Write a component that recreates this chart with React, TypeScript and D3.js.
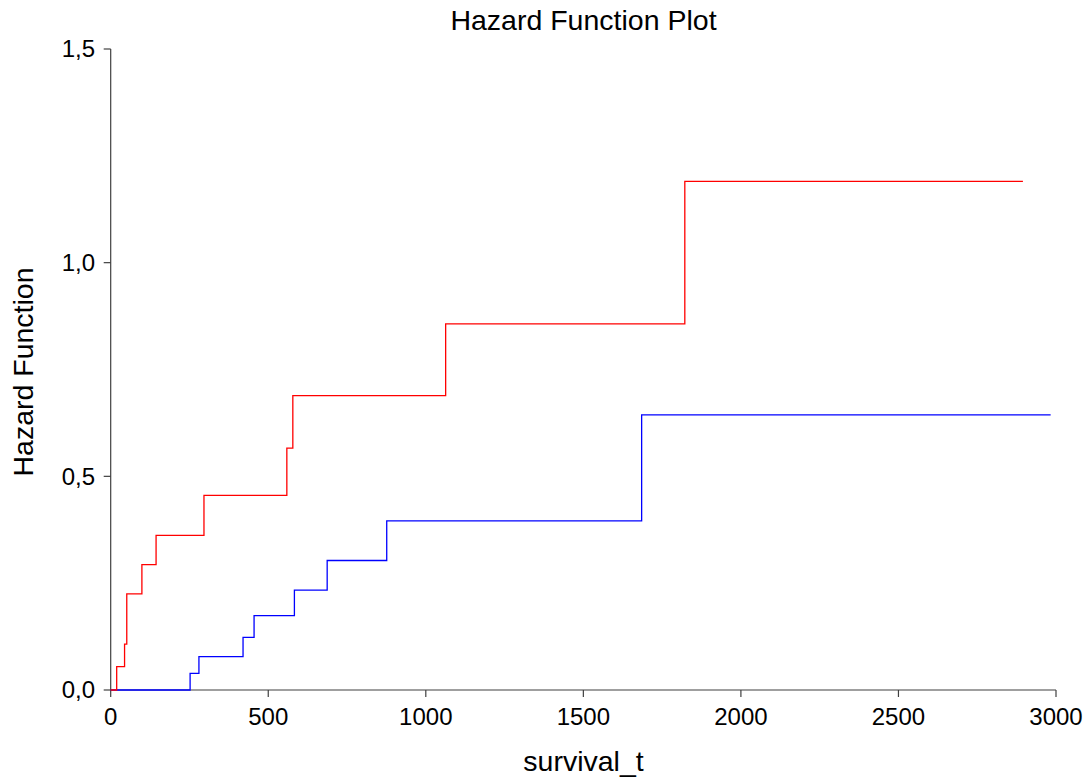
import React from "react";
import * as d3 from "d3";

const redTimes = [0, 19, 44, 51, 99, 144, 296, 559, 578, 1063, 1822, 2895];
const redValues = [0, 0.0545, 0.1075, 0.225, 0.2936, 0.362, 0.4556, 0.566, 0.689, 0.857, 1.19, 1.19];
const blueTimes = [0, 252, 280, 420, 455, 583, 687, 876, 1685, 2983];
const blueValues = [0, 0.039, 0.078, 0.123, 0.174, 0.2336, 0.303, 0.3956, 0.644, 0.644];
const xTicks = [0, 500, 1000, 1500, 2000, 2500, 3000];
const yTicks = [0, 0.5, 1.0, 1.5];

const W = 1088;
const H = 778;
const left = 110.7;
const right = 1056;
const top = 49;
const bottom = 690;
const font = "'Liberation Sans', Arial, sans-serif";

export default function App() {
  const x = d3.scaleLinear().domain([0, 3000]).range([left, right]);
  const y = d3.scaleLinear().domain([0, 1.5]).range([bottom, top]);
  const line = d3
    .line<[number, number]>()
    .x((d) => x(d[0]))
    .y((d) => y(d[1]))
    .curve(d3.curveStepAfter);
  const red = redTimes.map((t, i) => [t, redValues[i]] as [number, number]);
  const blue = blueTimes.map((t, i) => [t, blueValues[i]] as [number, number]);
  const fmt = (v: number) => v.toFixed(1).replace(".", ",");
  const axisColor = "#404040";
  return (
    <svg
      width={W}
      height={H}
      style={{ position: "absolute", left: 0, top: 0, background: "#fff" }}
      fontFamily={font}
    >
      <rect width={W} height={H} fill="#fff" />
      <text x={583.5} y={30} textAnchor="middle" fontSize={28.5} fill="#000">
        Hazard Function Plot
      </text>
      {/* y axis */}
      <line x1={left} x2={left} y1={top} y2={bottom} stroke={axisColor} strokeWidth={1.2} />
      {yTicks.map((v) => (
        <g key={v}>
          <line x1={left - 7} x2={left} y1={y(v)} y2={y(v)} stroke={axisColor} strokeWidth={1.2} />
          <text x={95} y={y(v)} dy="0.35em" textAnchor="end" fontSize={24} fill="#000">
            {fmt(v)}
          </text>
        </g>
      ))}
      {/* x axis */}
      <line x1={left} x2={right} y1={bottom} y2={bottom} stroke={axisColor} strokeWidth={1.2} />
      {xTicks.map((v) => (
        <g key={v}>
          <line x1={x(v)} x2={x(v)} y1={bottom} y2={bottom + 7} stroke={axisColor} strokeWidth={1.2} />
          <text x={x(v)} y={725} textAnchor="middle" fontSize={24} fill="#000">
            {v}
          </text>
        </g>
      ))}
      <text x={583.5} y={771} textAnchor="middle" fontSize={28.5} fill="#000">
        survival_t
      </text>
      <text
        transform={`translate(33, 372) rotate(-90)`}
        textAnchor="middle"
        fontSize={28.5}
        fill="#000"
      >
        Hazard Function
      </text>
      <path d={line(blue) || ""} fill="none" stroke="#0000ff" strokeWidth={1.3} />
      <path d={line(red) || ""} fill="none" stroke="#ff0000" strokeWidth={1.3} />
    </svg>
  );
}
